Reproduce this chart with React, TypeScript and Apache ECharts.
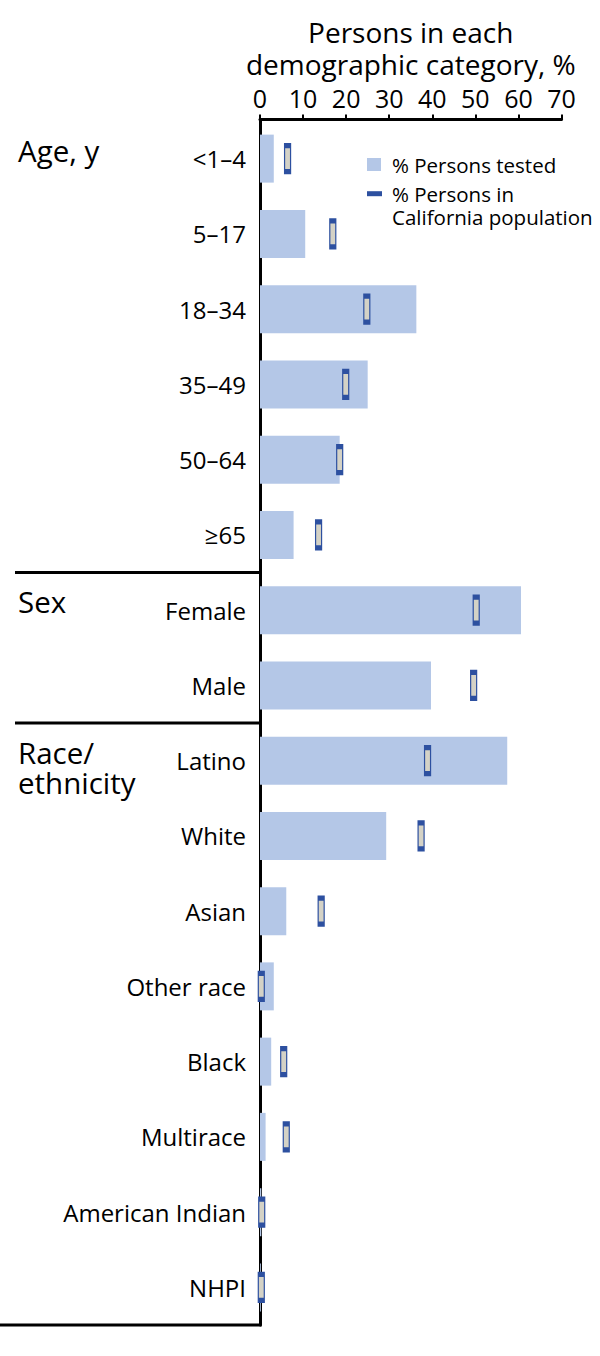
import React, { useEffect, useRef } from "react";
import * as echarts from "echarts";

const categories = [
  "<1–4", "5–17", "18–34", "35–49", "50–64", "≥65",
  "Female", "Male",
  "Latino", "White", "Asian", "Other race", "Black", "Multirace", "American Indian", "NHPI",
];
const testedPct = [3.2, 10.5, 36.3, 25.0, 18.5, 7.8, 60.6, 39.7, 57.4, 29.3, 6.1, 3.2, 2.6, 1.3, 0.3, 0.2];
const populationPct = [6.4, 16.9, 24.8, 19.9, 18.5, 13.6, 50.2, 49.6, 38.9, 37.4, 14.2, 0.3, 5.5, 6.1, 0.4, 0.3];
const xMin = 0;
const xMax = 70;
const xInterval = 10;
const groupLabels = [["Age, y"], ["Sex"], ["Race/", "ethnicity"]];
const groupStarts = [0, 6, 8];
const seriesNames = ["% Persons tested", "% Persons in California population"];
const legendLines = [["% Persons tested"], ["% Persons in", "California population"]];
const axisTitle = "Persons in each\ndemographic category, %";

const FONT = "'Open Sans', 'Noto Sans', sans-serif";
const BAR_COLOR = "#b4c7e7";
const MARK_BORDER = "#2d50a0";
const MARK_FILL = "#d4d2c6";

const W = 600;
const H = 1356;
const GRID_LEFT = 260;
const GRID_RIGHT = 38.5;
const GRID_TOP = 121;
const GRID_BOTTOM = 31;

export default function App() {
  const ref = useRef<HTMLDivElement>(null);

  useEffect(() => {
    if (!ref.current) return;
    const chart = echarts.init(ref.current, undefined, { renderer: "svg", width: W, height: H });
    const plotH = H - GRID_TOP - GRID_BOTTOM;
    const band = plotH / categories.length;

    const groupGraphics: any[] = [];
    groupStarts.forEach((start, gi) => {
      const yTop = GRID_TOP + start * band;
      if (gi > 0) {
        groupGraphics.push({
          type: "line",
          shape: { x1: 15, y1: yTop, x2: GRID_LEFT, y2: yTop },
          style: { stroke: "#000", lineWidth: 3 },
        });
      }
      groupLabels[gi].forEach((line, li) => {
        groupGraphics.push({
          type: "text",
          x: 18,
          y: yTop + 29 + li * 30,
          style: {
            text: line,
            fontSize: 29.5,
            fontFamily: FONT,
            fill: "#000",
            align: "left",
            verticalAlign: "middle",
          },
        });
      });
    });

    const legendGraphics: any[] = [];
    const legendCenters = [164.5, 193.7];
    legendLines.forEach((lines, k) => {
      if (k === 0) {
        legendGraphics.push({
          type: "rect",
          shape: { x: 367, y: legendCenters[k] - 6.5, width: 14, height: 13 },
          style: { fill: BAR_COLOR },
        });
      } else {
        legendGraphics.push({
          type: "rect",
          shape: { x: 367, y: legendCenters[k] - 2.5, width: 15, height: 5 },
          style: { fill: MARK_BORDER },
        });
      }
      lines.forEach((line, li) => {
        legendGraphics.push({
          type: "text",
          x: 392,
          y: legendCenters[k] + li * 23,
          style: {
            text: line,
            fontSize: 20.5,
            fontFamily: FONT,
            fill: "#000",
            align: "left",
            verticalAlign: "middle",
          },
        });
      });
    });

    const option: any = {
      animation: false,
      grid: { left: GRID_LEFT, right: GRID_RIGHT, top: GRID_TOP, bottom: GRID_BOTTOM, containLabel: false },
      xAxis: {
        type: "value",
        position: "top",
        min: xMin,
        max: xMax,
        interval: xInterval,
        offset: 1.5,
        name: axisTitle,
        nameLocation: "middle",
        nameGap: 40,
        nameTextStyle: { fontSize: 28, lineHeight: 32, fontFamily: FONT, color: "#000" },
        axisLine: { show: true, lineStyle: { color: "#000", width: 3 } },
        axisTick: { show: true, length: 5, lineStyle: { color: "#000", width: 2 } },
        axisLabel: { fontSize: 25, fontFamily: FONT, color: "#000", margin: 9 },
        splitLine: { show: false },
      },
      yAxis: {
        type: "category",
        inverse: true,
        data: categories,
        axisLine: { show: true, lineStyle: { color: "#000", width: 3 } },
        axisTick: { show: false },
        axisLabel: { fontSize: 24, fontFamily: FONT, color: "#000", margin: 14 },
        splitLine: { show: false },
      },
      series: [
        {
          name: seriesNames[0],
          type: "bar",
          data: testedPct,
          barWidth: 48,
          itemStyle: { color: BAR_COLOR },
          z: 2,
        },
        {
          name: seriesNames[1],
          type: "scatter",
          data: populationPct.map((v, i) => [v, i]),
          symbol: "rect",
          symbolSize: [6, 26],
          itemStyle: { color: MARK_FILL, borderColor: MARK_BORDER, borderWidth: 2.5, opacity: 1 },
          z: 3,
        },
      ],
      graphic: [
        ...groupGraphics,
        {
          type: "line",
          shape: { x1: 0, y1: H - GRID_BOTTOM, x2: GRID_LEFT + 1.5, y2: H - GRID_BOTTOM },
          style: { stroke: "#000", lineWidth: 3 },
        },
        ...legendGraphics,
      ],
    };
    chart.setOption(option);
    return () => chart.dispose();
  }, []);

  return (
    <div
      ref={ref}
      style={{ position: "absolute", left: 0, top: 0, width: W, height: H, background: "#fff" }}
    />
  );
}
